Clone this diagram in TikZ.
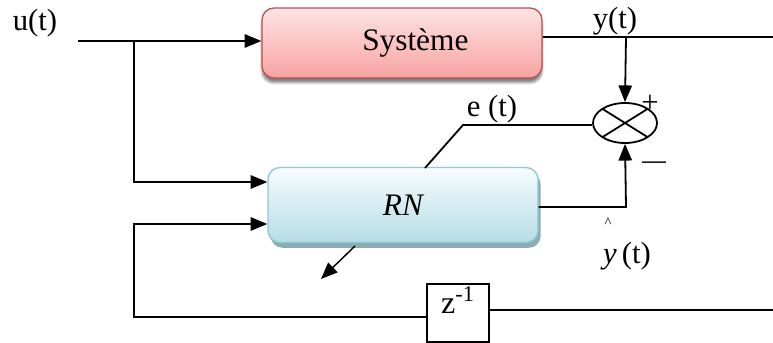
\documentclass[tikz,border=0pt]{standalone}
\usepackage{fontspec}
\setmainfont{Liberation Serif}
\usetikzlibrary{arrows.meta,shapes.geometric,shadows,shadows.blur,calc}

\definecolor{sysborder}{HTML}{C0504D}
\definecolor{systop}{HTML}{FDE4E4}
\definecolor{sysbot}{HTML}{F7A3A1}
\definecolor{rnborder}{HTML}{8CC8D6}
\definecolor{rntop}{HTML}{F8FCFD}
\definecolor{rnbot}{HTML}{B5DCE6}
\definecolor{rnshadow}{HTML}{7FA3AC}

\tikzset{
  lbl/.style={font=\fontsize{23}{27}\selectfont, inner sep=0pt},
  wire/.style={line width=1.35pt},
  arr/.style={wire, -{Triangle[length=12.5pt,width=10pt]}},
  sysbox/.style={rectangle, rounded corners=9pt, draw=sysborder, line width=1pt,
    top color=systop, bottom color=sysbot,
    minimum width=210pt, minimum height=52.5pt,
    blur shadow={shadow xshift=0pt, shadow yshift=-3.5pt, shadow blur steps=6, shadow opacity=50},
    font=\fontsize{23.5}{27}\selectfont},
  rnbox/.style={rectangle, rounded corners=9pt, draw=rnborder, line width=1pt,
    top color=rntop, bottom color=rnbot,
    minimum width=202.5pt, minimum height=56.25pt,
    drop shadow={shadow xshift=2pt, shadow yshift=-4pt, fill=rnshadow, opacity=0.9},
    font=\fontsize{23.5}{27}\selectfont\itshape},
  sumnode/.style={ellipse, draw, line width=1.35pt, inner sep=0pt,
    minimum width=48pt, minimum height=30pt,
    path picture={
      \draw[line width=1.35pt] (path picture bounding box.north west) -- (path picture bounding box.south east);
      \draw[line width=1.35pt] (path picture bounding box.south west) -- (path picture bounding box.north east);
    }},
  delaybox/.style={rectangle, draw, line width=1.35pt, fill=white,
    minimum width=46.5pt, minimum height=43.5pt},
}

\begin{document}
\begin{tikzpicture}[x=0.75pt, y=-0.75pt]
  \useasboundingbox (0,0) rectangle (773,342);

  % blocks
  \node[sysbox] (sys) at (402,43) {\hspace{20pt}Système};
  \node[rnbox] (rn) at (403,205) {RN};
  \node[sumnode] (sum) at (625,123) {};
  \node[delaybox] (z) at (458,313) {};
  \node[lbl, font=\fontsize{24}{28}\selectfont] (zl) at (458,300) {z\textsuperscript{-1}};

  % labels
  \node[lbl] (ul) at (35,23) {u(t)};
  \node[lbl] (yl) at (615,21) {y(t)};
  \node[lbl] (el) at (492,109) {e (t)};
  \node[lbl] (yh) at (627,256) {\textit{y}\,(t)};
  \node[font=\fontsize{11}{12}\selectfont, inner sep=0pt] (hat) at (608,223) {\textasciicircum};
  \node[font=\fontsize{23}{24}\selectfont, inner sep=0pt] (plus) at (650,104) {+};
  \node[font=\fontsize{22}{24}\selectfont, inner sep=0pt] (minus) at (654,166) {\scalebox{1.6}[1]{\textendash}};

  % free ends and corners
  \coordinate (uin) at (78,41);
  \coordinate (b1) at (134,41);
  \coordinate (b2) at (134,182);
  \coordinate (f1) at (134,224);
  \coordinate (f2) at (134,317);
  \coordinate (yout) at (773,37);
  \coordinate (ytap) at (626,37);
  \coordinate (rnout) at (626,207);
  \coordinate (ecorner) at (463,125);
  \coordinate (etop) at (425,168);
  \coordinate (zout) at (773,310);
  \coordinate (lst) at (355,246);
  \coordinate (lend) at (321,279);

  % input u(t) to the system and to the network
  \draw[arr] (uin) -- (uin -| sys.west);
  \draw[arr] (b1) -- (b2) -- (b2 -| rn.west);

  % delayed output fed back to the network
  \draw[arr] (f2 -| z.west) -- (f2) -- (f1) -- (f1 -| rn.west);
  \draw[wire] (zout -| z.east) -- (zout);

  % plant output y(t)
  \draw[wire] (yout -| sys.east) -- (yout);
  \draw[arr] (ytap) -- (sum.north);

  % network estimate to the comparator
  \draw[arr] (rnout -| rn.east) -- (rnout) -- (sum.south);

  % error signal back to the network
  \draw[wire] (sum.west |- ecorner) -- (ecorner) -- (etop);

  % learning arrow
  \draw[arr, line width=1.1pt] (lst) -- (lend);
\end{tikzpicture}
\end{document}
